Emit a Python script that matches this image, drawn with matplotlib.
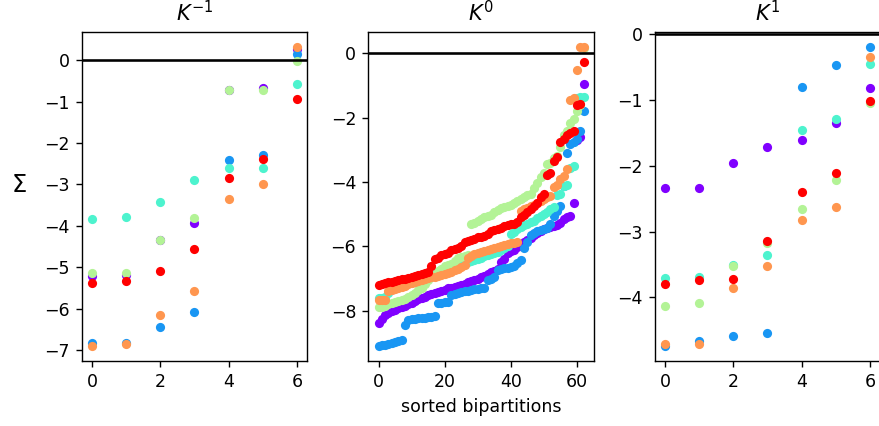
import numpy as np
import matplotlib
matplotlib.use("Agg")
import matplotlib.pyplot as plt

# ── data ──────────────────────────────────────────────────────────────────────
series_names = ["s0", "s1", "s2", "s3", "s4", "s5"]   # purple .. red
titles = ["$K^{-1}$", "$K^{0}$", "$K^{1}$"]

# K^-1 : 7 bipartitions per series
km1_purple = [-5.20, -5.19, -4.34, -3.92, -0.72, -0.67, 0.26]
km1_blue   = [-6.83, -6.82, -6.45, -6.08, -2.42, -2.28, 0.16]
km1_cyan   = [-3.83, -3.78, -3.42, -2.88, -2.61, -2.59, -0.57]
km1_green  = [-5.14, -5.13, -4.34, -3.82, -0.72, -0.72, -0.03]
km1_orange = [-6.90, -6.86, -6.16, -5.56, -3.35, -3.00, 0.32]
km1_red    = [-5.37, -5.33, -5.10, -4.56, -2.85, -2.39, -0.93]

# K^0 : 63 sorted bipartitions per series
k0_purple = [-8.39, -8.25, -8.15, -8.08, -8.02, -7.97, -7.93, -7.89, -7.85, -7.80,
             -7.75, -7.70, -7.65, -7.60, -7.56, -7.52, -7.48, -7.44, -7.41, -7.38,
             -7.35, -7.31, -7.28, -7.25, -7.22, -7.19, -7.16, -7.12, -7.08, -7.04,
             -7.00, -6.95, -6.91, -6.86, -6.81, -6.76, -6.70, -6.48, -6.38, -6.22,
             -6.15, -6.10, -6.03, -5.96, -5.88, -5.80, -5.73, -5.66, -5.58, -5.52,
             -5.47, -5.44, -5.40, -5.36, -5.33, -5.28, -5.15, -5.10, -5.06, -4.66,
             -2.68, -2.60, -0.94]
k0_blue = [-9.10, -9.08, -9.06, -9.03, -9.00, -8.97, -8.94, -8.90, -8.46, -8.30,
           -8.27, -8.25, -8.24, -8.23, -8.22, -8.21, -8.20, -8.18, -7.76, -7.75,
           -7.74, -7.73, -7.50, -7.47, -7.45, -7.43, -7.40, -7.38, -7.36, -7.34,
           -7.33, -7.31, -7.29, -7.06, -7.00, -6.96, -6.74, -6.70, -6.68, -6.66,
           -6.64, -6.60, -6.52, -6.42, -6.05, -5.85, -5.66, -5.58, -5.53, -5.49,
           -5.46, -5.43, -5.30, -5.05, -4.90, -4.75, -4.12, -3.10, -2.82, -2.75,
           -2.65, -2.40, -1.79]
k0_cyan = [-7.62, -7.60, -7.58, -7.45, -7.33, -7.27, -7.22, -7.18, -7.14, -7.11,
           -7.08, -7.05, -7.02, -6.99, -6.96, -6.93, -6.90, -6.86, -6.83, -6.80,
           -6.78, -6.76, -6.74, -6.70, -6.65, -6.60, -6.55, -6.50, -6.47, -6.44,
           -6.40, -6.35, -6.30, -6.27, -6.24, -6.22, -6.18, -6.12, -6.06, -6.00,
           -5.62, -5.55, -5.46, -5.40, -5.35, -5.30, -5.25, -5.20, -5.12, -5.05,
           -4.98, -4.93, -4.85, -4.78, -4.40, -4.38, -4.12, -4.08, -3.55, -3.50,
           -1.40, -1.37, -1.35]
k0_green = [-7.90, -7.88, -7.85, -7.80, -7.76, -7.73, -7.70, -7.67, -7.64, -7.58,
            -7.50, -7.44, -7.36, -7.28, -7.18, -7.06, -6.96, -6.90, -6.78, -6.70,
            -6.62, -6.58, -6.55, -6.45, -6.36, -6.32, -6.30, -6.27, -5.32, -5.28,
            -5.22, -5.16, -5.10, -5.06, -5.02, -4.92, -4.86, -4.82, -4.78, -4.74,
            -4.70, -4.64, -4.58, -4.52, -4.46, -4.40, -4.36, -4.20, -4.02, -3.85,
            -3.72, -3.45, -3.40, -3.25, -3.20, -2.90, -2.55, -2.42, -2.15, -2.05,
            -1.80, -1.60, 0.18]
k0_orange = [-7.68, -7.67, -7.66, -7.40, -7.36, -7.33, -7.30, -7.27, -7.23, -7.18,
             -7.14, -7.10, -7.07, -7.04, -7.01, -6.98, -6.96, -6.94, -6.91, -6.88,
             -6.85, -6.82, -6.79, -6.75, -6.70, -6.65, -6.58, -6.36, -6.30, -6.25,
             -6.21, -6.18, -6.14, -6.10, -6.07, -6.05, -6.03, -6.00, -5.97, -5.94,
             -5.91, -5.89, -5.86, -4.90, -4.85, -4.80, -4.74, -4.70, -4.66, -4.60,
             -4.52, -4.47, -4.42, -4.17, -4.10, -3.90, -3.80, -3.58, -1.46, -1.38,
             -0.51, 0.20, 0.20]
k0_red = [-7.20, -7.18, -7.15, -7.12, -7.10, -7.07, -7.05, -7.03, -7.01, -6.99,
          -6.96, -6.93, -6.90, -6.86, -6.83, -6.80, -6.62, -6.40, -6.36, -6.27,
          -6.23, -6.20, -6.12, -6.08, -6.04, -5.98, -5.88, -5.84, -5.80, -5.76,
          -5.72, -5.70, -5.67, -5.62, -5.52, -5.49, -5.46, -5.42, -5.38, -5.35,
          -5.32, -5.29, -5.25, -5.10, -5.02, -4.93, -4.85, -4.76, -4.66, -4.48,
          -4.36, -3.78, -3.72, -3.34, -3.22, -2.74, -2.65, -2.55, -2.48, -2.42,
          -1.62, -1.58, -0.27]

# K^1 : 7 bipartitions per series
k1_purple = [-2.34, -2.34, -1.95, -1.71, -1.61, -1.34, -0.82]
k1_blue   = [-4.74, -4.66, -4.58, -4.54, -0.80, -0.47, -0.19]
k1_cyan   = [-3.71, -3.69, -3.50, -3.36, -1.46, -1.29, -0.45]
k1_green  = [-4.13, -4.08, -3.52, -3.18, -2.65, -2.21, -1.05]
k1_orange = [-4.71, -4.71, -3.86, -3.52, -2.83, -2.62, -0.34]
k1_red    = [-3.80, -3.73, -3.72, -3.14, -2.39, -2.10, -1.01]

panels = [
    [km1_purple, km1_blue, km1_cyan, km1_green, km1_orange, km1_red],
    [k0_purple, k0_blue, k0_cyan, k0_green, k0_orange, k0_red],
    [k1_purple, k1_blue, k1_cyan, k1_green, k1_orange, k1_red],
]

colors = plt.cm.rainbow(np.linspace(0, 1, len(series_names)))

# ── figure ────────────────────────────────────────────────────────────────────
DPI = 125
fig = plt.figure(figsize=(879 / DPI, 426 / DPI), dpi=DPI)

W, H = 879, 426
lefts = [81.7, 368.3, 654.7]
ax_w, top, bottom = 225.5, 32, 361

for k, (data, title) in enumerate(zip(panels, titles)):
    ax = fig.add_axes([lefts[k] / W, 1 - bottom / H, ax_w / W, (bottom - top) / H])
    for vals, c in zip(data, colors):
        ax.scatter(np.arange(len(vals)), vals, s=28, color=c, linewidths=0)
    ylim = ax.get_ylim()      # limits from the points only
    ax.axhline(0, color="black", lw=1.5)
    ax.set_ylim(ylim)
    ax.set_title(title)
    if k == 0:
        ax.set_ylabel("Σ", fontsize=14, rotation=0, labelpad=14)
    if k == 1:
        ax.set_xlabel("sorted bipartitions")

fig.savefig("out.png", dpi=DPI)
